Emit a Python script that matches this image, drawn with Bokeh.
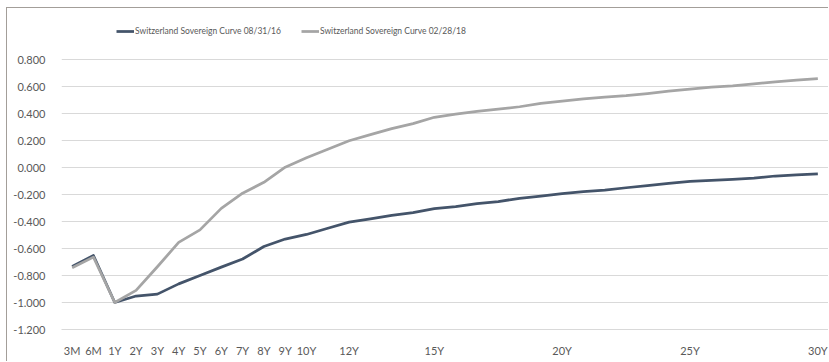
from bokeh.plotting import figure
from bokeh.models import Legend, LegendItem, FixedTicker, ColumnDataSource, Range1d, NumeralTickFormatter
from bokeh.embed import file_html
from bokeh.resources import INLINE

tenors = ["3M", "6M", "1Y", "2Y", "3Y", "4Y", "5Y", "6Y", "7Y", "8Y", "9Y", "10Y",
          "", "12Y", "", "", "", "15Y", "", "", "", "", "", "20Y",
          "", "", "", "", "", "25Y", "", "", "", "", "", "30Y"]

curve_083116 = [-0.733, -0.652, -1.000, -0.952, -0.938, -0.862, -0.800, -0.738, -0.678, -0.585,
                -0.530, -0.496, -0.450, -0.405, -0.380, -0.355, -0.335, -0.305, -0.290, -0.268,
                -0.252, -0.228, -0.212, -0.193, -0.178, -0.168, -0.150, -0.135, -0.118, -0.103,
                -0.096, -0.088, -0.078, -0.063, -0.055, -0.047]

curve_022818 = [-0.743, -0.664, -1.000, -0.910, -0.735, -0.555, -0.462, -0.303, -0.190, -0.110,
                0.002, 0.072, 0.135, 0.198, 0.243, 0.288, 0.325, 0.372, 0.395, 0.415,
                0.432, 0.450, 0.475, 0.492, 0.508, 0.522, 0.532, 0.548, 0.565, 0.580,
                0.595, 0.605, 0.620, 0.635, 0.648, 0.658]

y_ticks = [-1.2, -1.0, -0.8, -0.6, -0.4, -0.2, 0.0, 0.2, 0.4, 0.6, 0.8]
series_names = ["Switzerland Sovereign Curve 08/31/16", "Switzerland Sovereign Curve 02/28/18"]

x_idx = list(range(len(tenors)))
src = ColumnDataSource(dict(x=x_idx, a=curve_083116, b=curve_022818))

# frame spans the legend strip too; the value axis runs -1.2..0.8 over 270 px
frame_h = 354 - 33
y_top = y_ticks[0] + (y_ticks[-1] - y_ticks[0]) * frame_h / 270.0

p = figure(width=822, height=354, output_backend="svg", toolbar_location=None,
           x_range=Range1d(-0.5, len(tenors) - 0.5), y_range=Range1d(y_ticks[0], y_top),
           min_border_left=54, min_border_right=1, min_border_top=0, min_border_bottom=33)
p.styles = {"margin-left": "6px", "margin-top": "7px",
            "border-left": "1px solid #a39e99", "border-top": "1px solid #a39e99"}
p.outline_line_color = None
p.background_fill_color = "white"
p.border_fill_color = "white"

r1 = p.line("x", "a", source=src, line_color="#44546A", line_width=2.75, line_join="round")
r2 = p.line("x", "b", source=src, line_color="#A5A5A5", line_width=2.75, line_join="round")

label_font = "Lato"
p.xgrid.grid_line_color = None
p.ygrid.grid_line_color = "#D9D9D9"
p.ygrid.ticker = FixedTicker(ticks=y_ticks)

p.yaxis.ticker = FixedTicker(ticks=y_ticks)
p.yaxis.formatter = NumeralTickFormatter(format="0.000")
p.yaxis.axis_line_color = None
p.yaxis.major_tick_line_color = None
p.yaxis.minor_tick_line_color = None
p.yaxis.major_label_standoff = 10
p.yaxis.major_label_text_font = label_font
p.yaxis.major_label_text_font_size = "11px"
p.yaxis.major_label_text_color = "#595959"

tick_pos = [i for i, t in enumerate(tenors) if t]
p.xaxis.ticker = FixedTicker(ticks=tick_pos)
p.xaxis.major_label_overrides = {i: tenors[i] for i in tick_pos}
p.xaxis.axis_line_color = "#D9D9D9"
p.xaxis.major_tick_line_color = None
p.xaxis.minor_tick_line_color = None
p.xaxis.major_label_standoff = 8
p.xaxis.major_label_text_font = label_font
p.xaxis.major_label_text_font_size = "11px"
p.xaxis.major_label_text_color = "#595959"

legend = Legend(items=[LegendItem(label=series_names[0], renderers=[r1]),
                       LegendItem(label=series_names[1], renderers=[r2])],
                location=(55, 292), orientation="horizontal",
                border_line_color=None, background_fill_alpha=0,
                padding=4, spacing=20, label_standoff=1, margin=0,
                glyph_width=18, glyph_height=12,
                label_text_font=label_font, label_text_font_size="8.5px",
                label_text_color="#595959")
p.add_layout(legend)

open("out.html", "w").write(file_html(p, INLINE))
